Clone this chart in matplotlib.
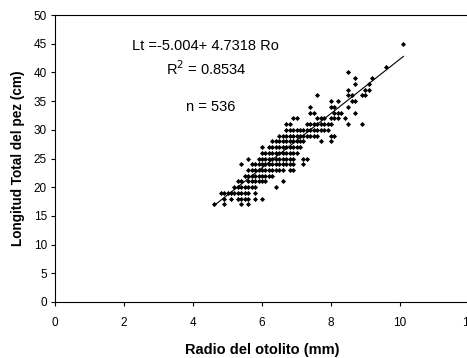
import matplotlib
matplotlib.use("Agg")
import matplotlib.pyplot as plt
import numpy as np

plt.rcParams['font.family'] = ['Liberation Sans', 'DejaVu Sans']

# Scatter values: length (cm) rows with otolith radius (mm) values
rows = {
    17: [4.6, 4.9, 5.4, 5.6],
    18: [4.9, 5.1, 5.3, 5.4, 5.5, 5.6, 5.8, 6.0],
    19: [4.8, 4.9, 5.0, 5.1, 5.2, 5.3, 5.4, 5.5, 5.6, 5.8],
    20: [5.2, 5.3, 5.4, 5.5, 5.6, 5.7, 5.8, 6.4],
    21: [5.3, 5.4, 5.6, 5.7, 5.8, 5.9, 6.0, 6.1, 6.6],
    22: [5.5, 5.6, 5.7, 5.8, 5.9, 6.0, 6.1, 6.2, 6.3],
    23: [5.6, 5.7, 5.8, 5.9, 6.0, 6.1, 6.2, 6.3, 6.4, 6.5, 6.6, 6.8, 6.9],
    24: [5.4, 5.7, 5.8, 5.9, 6.0, 6.1, 6.2, 6.3, 6.4, 6.5, 6.6, 6.7, 6.8, 6.9, 7.2],
    25: [5.6, 5.9, 6.0, 6.1, 6.2, 6.3, 6.4, 6.5, 6.6, 6.7, 6.8, 6.9, 7.2, 7.3],
    26: [6.0, 6.1, 6.2, 6.3, 6.4, 6.5, 6.6, 6.7, 6.8, 6.9, 7.0],
    27: [6.0, 6.2, 6.3, 6.4, 6.5, 6.6, 6.7, 6.8, 6.9, 7.0, 7.1],
    28: [6.3, 6.4, 6.5, 6.6, 6.7, 6.8, 6.9, 7.0, 7.1, 7.2, 7.7, 8.0],
    29: [6.5, 6.6, 6.7, 6.8, 6.9, 7.0, 7.1, 7.2, 7.3, 7.4, 7.5, 7.6, 8.0, 8.1],
    30: [6.7, 6.8, 6.9, 7.0, 7.1, 7.2, 7.3, 7.4, 7.5, 7.6, 7.7, 7.8, 7.9],
    31: [6.7, 6.8, 7.3, 7.4, 7.5, 7.6, 7.7, 7.8, 7.9, 8.0, 8.5, 8.9],
    32: [6.9, 7.0, 7.6, 7.7, 7.8, 8.0, 8.1, 8.2, 8.4],
    33: [7.4, 7.5, 8.1, 8.2, 8.3, 8.7],
    34: [7.4, 8.0, 8.1, 8.5],
    35: [8.0, 8.2, 8.6, 8.7],
    36: [7.6, 8.5, 8.6, 8.9, 9.0],
    37: [8.5, 9.0, 9.1],
    38: [8.7, 9.1],
    39: [8.7, 9.2],
    40: [8.5],
    41: [9.6],
    45: [10.1],
}

intercept = -5.004
slope = 4.7318
r2 = 0.8534
n = 536

x_ticks = [0, 2, 4, 6, 8, 10, 12]
y_ticks = [0, 5, 10, 15, 20, 25, 30, 35, 40, 45, 50]

radius = []
length = []
for yv, xs in rows.items():
    for xv in xs:
        radius.append(xv)
        length.append(yv)
radius = np.array(radius)
length = np.array(length)

fig = plt.figure(figsize=(4.67, 3.58), dpi=100)
ax = fig.add_axes([55.2 / 467, 1 - 302 / 358, (468.9 - 55.2) / 467, (302 - 15) / 358])

ax.plot(radius, length, linestyle='none', marker='D', markersize=2.6,
        color='black', markeredgewidth=0)

xl = np.array([radius.min(), radius.max()])
ax.plot(xl, intercept + slope * xl, color='black', linewidth=0.8)

ax.set_xlim(0, 12)
ax.set_ylim(0, 50)
ax.set_xticks(x_ticks)
ax.set_yticks(y_ticks)
ax.set_xticklabels([str(t) for t in x_ticks])
ax.set_yticklabels([str(t) for t in y_ticks])
ax.tick_params(axis='both', direction='out', length=3, width=0.8, labelsize=8.5, pad=3)
ax.tick_params(axis='x', pad=8)
for s in ax.spines.values():
    s.set_linewidth(0.8)
ax.spines['right'].set_visible(False)

ax.set_xlabel('Radio del otolito (mm)', fontsize=10.5, fontweight='bold', labelpad=10)
ax.set_ylabel('Longitud Total del pez (cm)', fontsize=9.8, fontweight='bold', labelpad=6)

ax.text(4.35, 44.65, 'Lt =-5.004+ 4.7318 Ro', ha='center', va='center', fontsize=10.5)
ax.text(4.37, 40.6, r'R$^2$ = 0.8534', ha='center', va='center', fontsize=10.5)
ax.text(4.52, 34.0, 'n = 536', ha='center', va='center', fontsize=10.5)

fig.savefig('out.png', dpi=100)
